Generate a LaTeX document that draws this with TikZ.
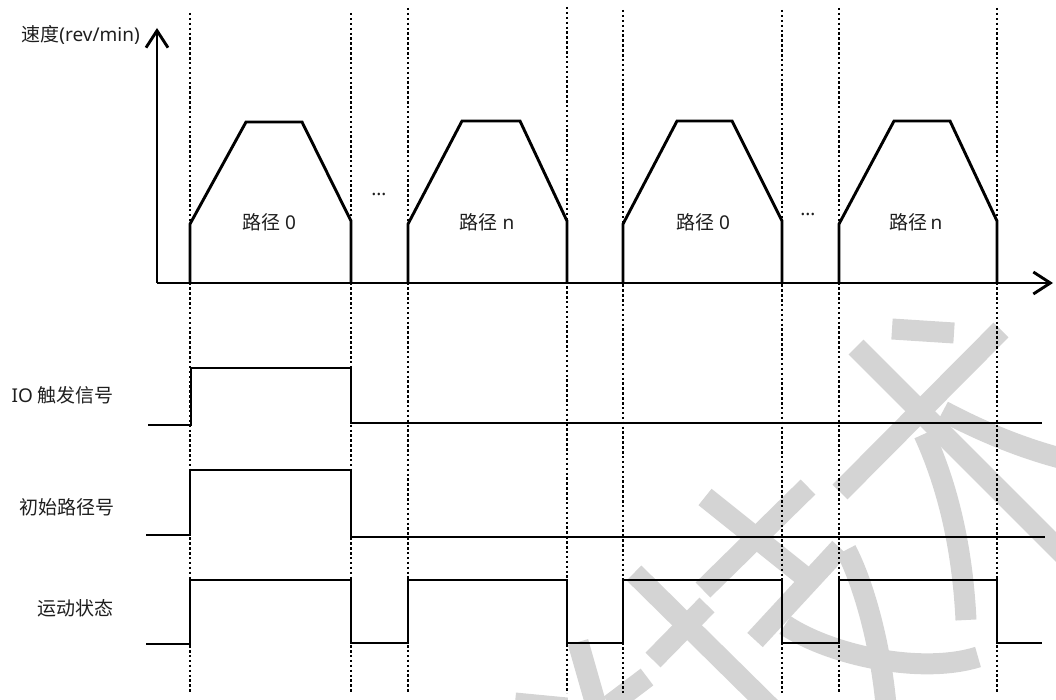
\documentclass[tikz,border=0pt]{standalone}
\usepackage{fontspec}
\setmainfont{Noto Sans}
\newfontfamily\cjk{Noto Sans CJK SC}
\usetikzlibrary{arrows.meta}
\definecolor{wm}{RGB}{212,212,212}
\definecolor{txt}{RGB}{30,30,30}
\begin{document}
\begin{tikzpicture}[x=1pt,y=-1pt,
  sig/.style={line width=2.9pt, line join=miter, line cap=butt},
  guide/.style={line width=2.6pt, dash pattern=on 2.5pt off 2.4pt},
  wmark/.style={draw=wm, line width=21pt, line cap=butt},
  lbl/.style={font=\fontsize{19}{22}\selectfont, text=txt, inner sep=0pt},
  dots/.style={font=\fontsize{19}{22}\selectfont, text=txt, inner sep=0pt},
  axis/.style={line width=2.9pt, -{Straight Barb[length=17pt,width=22pt]}}
]
\useasboundingbox (0,0) rectangle (1056,700);

% watermark
\draw[wmark] (892,329) -- (954,333);
\draw[wmark] (1001,330) -- (840,492);
\draw[wmark] (856,347) -- (1070,561);
\draw[wmark] (943,411) .. controls (975,428) and (1015,446) .. (1060,458);
\draw[wmark] (924,434) .. controls (945,480) and (962,540) .. (966,620);
\draw[wmark] (785,625) .. controls (830,655) and (920,675) .. (978,657);
\draw[wmark] (846,550) .. controls (862,580) and (880,640) .. (886,705);
\draw[wmark] (840,548) -- (755,640);
\draw[wmark] (808,487) -- (703,590);
\draw[wmark] (705,497) -- (805,577);
\draw[wmark] (634,573) -- (775,712);
\draw[wmark] (707,605) -- (653,660);
\draw[wmark] (578,642) -- (596,705);
\draw[wmark] (647,677) -- (610,705);
\draw[wmark] (515,703) -- (567,708);

% guide lines
\foreach \i/\x/\t in {1/190/13, 2/351/13, 3/408/8, 4/567/7, 5/623/10, 6/782/10, 7/839/8, 8/997/8} {
  \coordinate (gt\i) at (\x,\t);
  \coordinate (gb\i) at (\x,693);
  \draw[guide] (gt\i) -- (gb\i);
}

% axes
\coordinate (O) at (157,283);
\coordinate (Ytop) at (157,28);
\coordinate (Xend) at (1053,283);
\draw[axis] (O) -- (Ytop);
\draw[axis] (O) -- (Xend);
\node[lbl, anchor=east] (ylab) at (140,35) {{\cjk 速度}(rev/min)};

% speed profiles
\draw[sig] (190,283) -- (190,224) -- (246,122) -- (302,122) -- (351,221) -- (351,283);
\draw[sig] (408,283) -- (408,224) -- (462,121) -- (520,121) -- (567,221) -- (567,283);
\draw[sig] (623,283) -- (623,224) -- (677,121) -- (732,121) -- (782,221) -- (782,283);
\draw[sig] (839,283) -- (839,224) -- (894,121) -- (950,121) -- (997,221) -- (997,283);

\node[lbl] (p1) at (269,222) {{\cjk 路径} 0};
\node[lbl] (p2) at (487,222) {{\cjk 路径} n};
\node[lbl] (p3) at (703,222) {{\cjk 路径} 0};
\node[lbl] (p4) at (916,222) {{\cjk 路径}\,n};
\node[dots] (d1) at (379,194) {…};
\node[dots] (d2) at (808,214) {…};

% signals
\node[lbl, anchor=east] (lio) at (114,395) {IO {\cjk 触发信号}};
\node[lbl, anchor=east] (lpath) at (115,507) {\cjk 初始路径号};
\node[lbl, anchor=east] (lmove) at (114,608) {\cjk 运动状态};

\draw[sig] (148,425) -- (191,425) -- (191,368) -- (351,368) -- (351,423) -- (1042,423);
\draw[sig] (146,535) -- (190,535) -- (190,470) -- (351,470) -- (351,537) -- (1045,537);
\draw[sig] (146,644) -- (190,644) -- (190,580) -- (351,580) -- (351,643) -- (408,643)
  -- (408,580) -- (567,580) -- (567,643) -- (623,643) -- (623,580) -- (782,580)
  -- (782,643) -- (839,643) -- (839,580) -- (997,580) -- (997,643) -- (1042,643);
\end{tikzpicture}
\end{document}
